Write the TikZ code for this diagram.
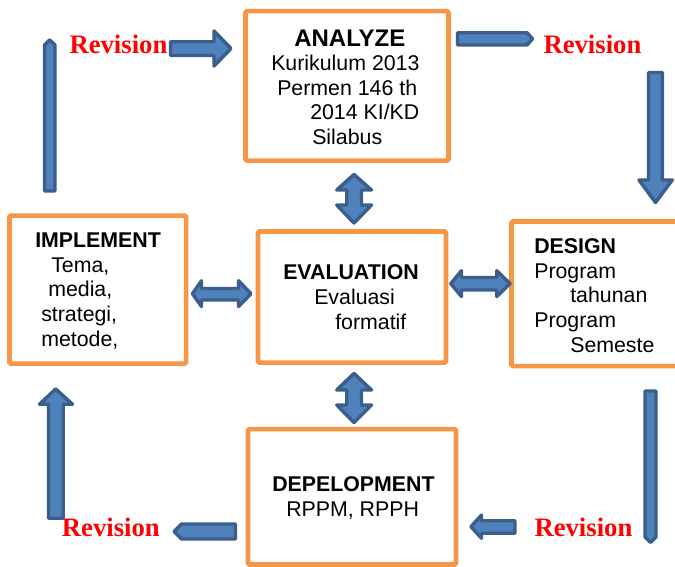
\documentclass[tikz,border=0pt]{standalone}
\usepackage{fontspec}
\setmainfont{Liberation Sans}
\newfontfamily\revfont{Liberation Serif}

\definecolor{boxline}{RGB}{247,150,70}
\definecolor{arrfill}{RGB}{79,129,189}
\definecolor{arrline}{RGB}{58,95,139}

\begin{document}
\begin{tikzpicture}[
x=0.75pt, y=-0.75pt,
stage/.style={draw=boxline, line width=3.4pt, rectangle, rounded corners=1pt, fill=white, inner sep=0pt},
txt/.style={anchor=base west, inner sep=0pt, align=left, font=\fontsize{16}{18.4}\selectfont},
rev/.style={anchor=base west, inner sep=0pt, text=red, font=\revfont\bfseries\fontsize{20}{24}\selectfont},
blockarr/.style={fill=arrfill, draw=arrline, line width=2.6pt, line join=round}
]

\useasboundingbox (0,0) rectangle (675,567);
\clip (0,0) rectangle (675,567);
\fill[white] (0,0) rectangle (675,567);

\node[stage, minimum width=152.25pt, minimum height=112pt] (analyze) at (347,85.85) {};
\node[stage, minimum width=132.4pt, minimum height=111.1pt] (implement) at (97.75,289.6) {};
\node[stage, minimum width=141pt, minimum height=98.4pt] (evaluation) at (352,297.1) {};
\node[stage, minimum width=141.4pt, minimum height=108.4pt] (design) at (605.75,293.75) {};
\node[stage, minimum width=156pt, minimum height=101.6pt] (develop) at (352,496.75) {};

\node[txt] (analyzetxt) at (271,144.5) {\hspace*{17.25pt}{\fontsize{18}{18.4}\selectfont\bfseries ANALYZE}\\
  Kurikulum 2013\\ \hspace*{4.5pt}Permen 146 th\\ \hspace*{29.25pt}2014 KI/KD\\ \hspace*{30.75pt}Silabus};
\node[txt] (implementtxt) at (35,346) {\textbf{IMPLEMENT}\\ \hspace*{12pt}Tema,\\ \hspace*{9.75pt}media,\\
  \hspace*{4.5pt}strategi,\\ \hspace*{4.5pt}metode,};
\node[txt] (evaluationtxt) at (283,329) {\textbf{EVALUATION}\\ \hspace*{23.25pt}Evaluasi\\ \hspace*{39pt}formatif};
\node[txt] (designtxt) at (534,352) {\textbf{DESIGN}\\ Program\\ \hspace*{27pt}tahunan\\ Program\\ \hspace*{27pt}Semeste};
\node[txt] (developtxt) at (272,516.5) {\textbf{DEPELOPMENT}\\ \hspace*{10.5pt}RPPM, RPPH};

\node[rev] (revtl) at (69.3,53.3) {Revision};
\node[rev] (revtr) at (543.3,53.3) {Revision};
\node[rev] (revbl) at (61.7,536.7) {Revision};
\node[rev] (revbr) at (534.3,536.7) {Revision};

\draw[blockarr] (44.5,191) -- (44.5,45) -- (49.7,40) -- (55,45) -- (55,191) -- cycle;
\draw[blockarr] (170.5,41.75) -- (214,41.75) -- (214,31) -- (231,48.5) -- (214,66) -- (214,55.5) -- (170.5,55.5) -- cycle;
\draw[blockarr] (457.5,32.75) -- (527,32.75) -- (532.5,38.85) -- (527,45) -- (457.5,45) -- cycle;
\draw[blockarr] (648.5,72.5) -- (662.3,72.5) -- (662.3,180) -- (672.3,180) -- (655.5,202.5) -- (639,180) -- (648.5,180) -- cycle;

\draw[blockarr] (354,174.5) -- (371.5,190) -- (361.5,190) -- (361.5,205) -- (371.5,205) -- (354,223)
  -- (336.75,205) -- (346.75,205) -- (346.75,190) -- (336.75,190) -- cycle;
\draw[blockarr] (354,373.5) -- (371.5,390) -- (361.5,390) -- (361.5,405) -- (371.5,405) -- (354,422.5)
  -- (336.75,405) -- (346.75,405) -- (346.75,390) -- (336.75,390) -- cycle;
\draw[blockarr] (192.5,293.7) -- (201.5,280.75) -- (201.5,288.5) -- (238.5,288.5) -- (238.5,280.75) -- (251,293.7)
  -- (238.5,306.5) -- (238.5,300) -- (201.5,300) -- (201.5,306.5) -- cycle;
\draw[blockarr] (450.75,283.6) -- (461.5,270.75) -- (461.5,277.5) -- (496.75,277.5) -- (496.75,270.75) -- (510,283.6)
  -- (496.75,296.5) -- (496.75,290) -- (461.5,290) -- (461.5,296.5) -- cycle;

\draw[blockarr] (55.7,389) -- (72.5,404.25) -- (63.25,404.25) -- (63.25,518.25) -- (48.5,518.25) -- (48.5,404.25) -- (39.5,404.25) -- cycle;
\draw[blockarr] (235.5,524) -- (235.5,539) -- (181.5,539) -- (174,531.5) -- (181.5,524) -- cycle;
\draw[blockarr] (515,520.75) -- (515,533.25) -- (481.5,533.25) -- (481.5,538.25) -- (471,526.7) -- (481.5,515) -- (481.5,520.75) -- cycle;
\draw[blockarr] (645,391) -- (656,391) -- (656,537) -- (650.5,542.5) -- (645,537) -- cycle;

\end{tikzpicture}
\end{document}
